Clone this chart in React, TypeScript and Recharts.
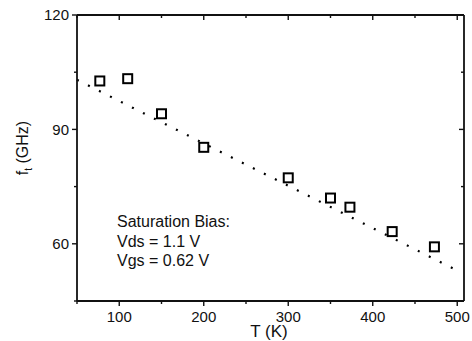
import { ComposedChart, Scatter, Line, XAxis, YAxis } from "recharts";

const temps = [77, 110, 150, 200, 300, 350, 373, 423, 473];
const ftValues = [102.7, 103.3, 94.1, 85.3, 77.3, 72.0, 69.6, 63.2, 59.2];

const fitTemps = [50, 500];
const fitValues = [103, 53];

const xTicks = [50, 100, 150, 200, 250, 300, 350, 400, 450, 500];
const xMajor = [100, 200, 300, 400, 500];
const yTicks = [45, 60, 75, 90, 105, 120];
const yMajor = [60, 90, 120];

const points = temps.map((t, i) => ({ T: t, ft: ftValues[i] }));
const fit = fitTemps.map((t, i) => ({ T: t, ft: fitValues[i] }));

const FONT = "'Liberation Sans', Arial, sans-serif";
const INK = "#111";
const AXIS = { stroke: INK, strokeWidth: 1.8 };

const BottomTick = ({ x, y, payload }: any) => {
    const major = xMajor.includes(payload.value);
    return (
        <g>
            <line x1={x} x2={x} y1={y} y2={y + (major ? 5 : 3)} stroke={INK} strokeWidth={1.4} />
            {major && (
                <text x={x} y={y + 21} textAnchor="middle" fontSize={15} fontFamily={FONT} fill={INK}>
                    {payload.value}
                </text>
            )}
        </g>
    );
};

const TopTick = ({ x, y, payload }: any) => {
    const major = xMajor.includes(payload.value);
    return <line x1={x} x2={x} y1={y} y2={y + (major ? 5 : 3)} stroke={INK} strokeWidth={1.4} />;
};

const LeftTick = ({ x, y, payload }: any) => {
    const major = yMajor.includes(payload.value);
    return (
        <g>
            <line x1={x} x2={x - (major ? 5 : 3)} y1={y} y2={y} stroke={INK} strokeWidth={1.4} />
            {major && (
                <text x={x - 8} y={y} dy="0.35em" textAnchor="end" fontSize={15} fontFamily={FONT} fill={INK}>
                    {payload.value}
                </text>
            )}
        </g>
    );
};

const RightTick = ({ x, y, payload }: any) => {
    const major = yMajor.includes(payload.value);
    return <line x1={x} x2={x - (major ? 5 : 3)} y1={y} y2={y} stroke={INK} strokeWidth={1.4} />;
};

const Square = ({ cx, cy }: any) => (
    <rect x={cx - 4.5} y={cy - 4.5} width={9} height={9} fill="#fff" stroke="#000" strokeWidth={2} />
);

export default function App() {
    return (
        <div style={{ position: "absolute", left: 0, top: 0 }}>
            <ComposedChart width={472} height={341} margin={{ top: 14, right: 7, left: 0, bottom: 0 }}>
                <XAxis
                    xAxisId="b"
                    type="number"
                    dataKey="T"
                    domain={[50, 508]}
                    ticks={xTicks}
                    interval={0}
                    height={40}
                    stroke={INK}
                    axisLine={AXIS}
                    tickLine={false}
                    tickSize={0}
                    tickMargin={0}
                    tick={<BottomTick />}
                />
                <XAxis
                    xAxisId="t"
                    orientation="top"
                    type="number"
                    dataKey="T"
                    domain={[50, 508]}
                    ticks={xTicks}
                    interval={0}
                    height={1}
                    stroke={INK}
                    axisLine={AXIS}
                    tickLine={false}
                    tickSize={0}
                    tickMargin={0}
                    tick={<TopTick />}
                />
                <YAxis
                    yAxisId="l"
                    type="number"
                    domain={[45, 120]}
                    ticks={yTicks}
                    interval={0}
                    width={77}
                    stroke={INK}
                    axisLine={AXIS}
                    tickLine={false}
                    tickSize={0}
                    tickMargin={0}
                    tick={<LeftTick />}
                />
                <YAxis
                    yAxisId="r"
                    orientation="right"
                    type="number"
                    domain={[45, 120]}
                    ticks={yTicks}
                    interval={0}
                    width={1}
                    stroke={INK}
                    axisLine={AXIS}
                    tickLine={false}
                    tickSize={0}
                    tickMargin={0}
                    tick={<RightTick />}
                />
                <Line
                    xAxisId="b"
                    yAxisId="l"
                    data={fit}
                    dataKey="ft"
                    type="linear"
                    stroke="#000"
                    strokeWidth={2.2}
                    strokeDasharray="2 10.3"
                    dot={false}
                    activeDot={false}
                    isAnimationActive={false}
                />
                <Scatter
                    xAxisId="b"
                    yAxisId="l"
                    data={points}
                    dataKey="ft"
                    shape={<Square />}
                    isAnimationActive={false}
                />
                <Scatter
                    xAxisId="t"
                    yAxisId="r"
                    data={points}
                    dataKey="ft"
                    shape={() => <g />}
                    isAnimationActive={false}
                />
                <text x={269} y={337} textAnchor="middle" fontSize={17} fontFamily={FONT} fill={INK}>
                    T (K)
                </text>
                <text transform="translate(28,148) rotate(-90)" textAnchor="middle" fontSize={16} fontFamily={FONT} fill={INK}>
                    f<tspan fontSize={10} dy={4}>t</tspan>
                    <tspan dy={-4}> (GHz)</tspan>
                </text>
                <g fontSize={16} fontFamily={FONT} fill={INK}>
                    <text x={117} y={227}>Saturation Bias:</text>
                    <text x={117} y={247}>Vds = 1.1 V</text>
                    <text x={117} y={266}>Vgs = 0.62 V</text>
                </g>
            </ComposedChart>
        </div>
    );
}
